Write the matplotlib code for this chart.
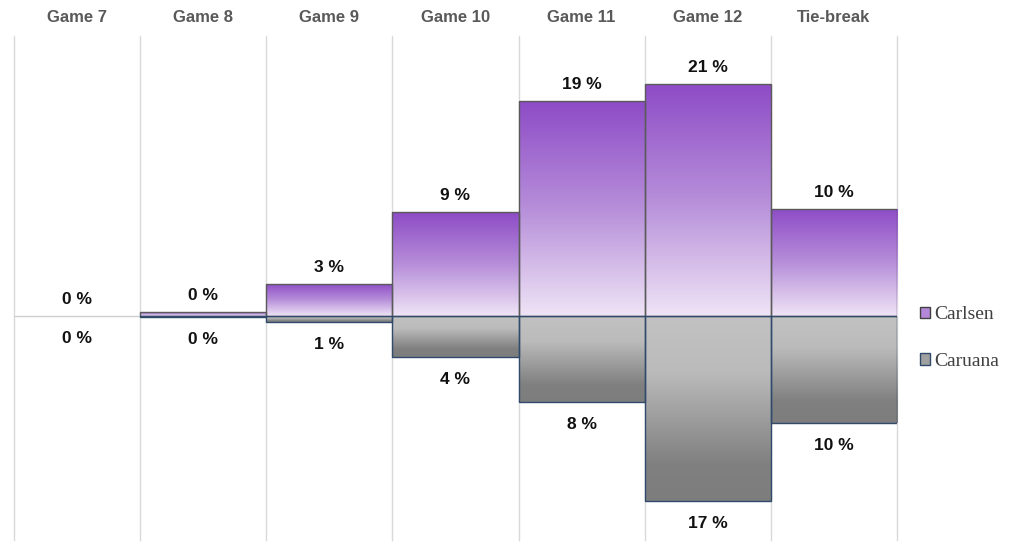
import numpy as np
import matplotlib
matplotlib.use("Agg")
import matplotlib.pyplot as plt
from matplotlib.colors import LinearSegmentedColormap
from matplotlib.patches import Patch

# ---- data ----
games = ["Game 7", "Game 8", "Game 9", "Game 10", "Game 11", "Game 12", "Tie-break"]
carlsen = [0.0, 0.4, 2.9, 9.4, 19.5, 21.0, 9.7]
caruana = [0.0, 0.1, 0.5, 3.7, 7.8, 16.7, 9.7]
carlsen_labels = ["0 %", "0 %", "3 %", "9 %", "19 %", "21 %", "10 %"]
caruana_labels = ["0 %", "0 %", "1 %", "4 %", "8 %", "17 %", "10 %"]
series_names = ["Carlsen", "Caruana"]

W, H = 1013, 555
fig = plt.figure(figsize=(W / 100, H / 100), dpi=100)
ax = fig.add_axes([14 / W, (H - 540) / H, 883 / W, 504 / H])

px_per_unit = 11.05
ymax = (316 - 36) / px_per_unit
ymin = -(540 - 316) / px_per_unit

purple_cmap = LinearSegmentedColormap.from_list(
    "purp", [(0.0, "#efe4f6"), (0.5, "#b68ed9"), (1.0, "#8d4bc6")])
gray_cmap = LinearSegmentedColormap.from_list(
    "gry", [(0.0, "#c2c2c2"), (0.3, "#bbbbbb"), (0.8, "#808080"), (1.0, "#7d7d7d")])

x = np.arange(len(games)) + 0.5
lw1 = [1.0 if v > 0 else 0.0 for v in carlsen]
lw2 = [1.0 if v > 0 else 0.0 for v in caruana]
b1 = ax.bar(x, carlsen, width=1.0, facecolor="none", edgecolor="#5a5a5a", linewidth=lw1, zorder=3)
b2 = ax.bar(x, [-v for v in caruana], width=1.0, facecolor="none", edgecolor="#2f4a6b", linewidth=lw2, zorder=3)

grad = np.linspace(0, 1, 256).reshape(-1, 1)
for bar, v in zip(b1, carlsen):
    if v <= 0:
        continue
    l = bar.get_x(); r = l + bar.get_width()
    im = ax.imshow(grad, extent=[l, r, 0, v], origin="lower", aspect="auto",
                   cmap=purple_cmap, vmin=0, vmax=1, zorder=2, interpolation="bilinear")
    im.set_clip_path(bar)
for bar, v in zip(b2, caruana):
    if v <= 0:
        continue
    l = bar.get_x(); r = l + bar.get_width()
    im = ax.imshow(grad[::-1], extent=[l, r, -v, 0], origin="lower", aspect="auto",
                   cmap=gray_cmap, vmin=0, vmax=1, zorder=2, interpolation="bilinear")
    im.set_clip_path(bar)

# grid / zero line
for gx in range(len(games) + 1):
    ax.axvline(gx, color="#d9d9d9", linewidth=1.0, zorder=1, clip_on=False)
ax.axhline(0, color="#d0d0d0", linewidth=1.0, zorder=1)

# value labels
lab_font = dict(family=["Liberation Sans", "DejaVu Sans"], fontsize=12.5, fontweight="bold", color="#111111")
for xi, v, t in zip(x, carlsen, carlsen_labels):
    ax.annotate(t, (xi, v), xytext=(0, 11.8), textcoords="offset points",
                ha="center", va="center", **lab_font)
for xi, v, t in zip(x, caruana, caruana_labels):
    ax.annotate(t, (xi, -v), xytext=(0, -16.3), textcoords="offset points",
                ha="center", va="center", **lab_font)

# category labels on top
for xi, g in zip(x, games):
    ax.text(xi, 1 + (36 - 17) / 504, g, transform=ax.get_xaxis_transform(),
            ha="center", va="center", fontsize=12, fontweight="bold",
            color="#595959", family=["Liberation Sans", "DejaVu Sans"])

ax.set_xlim(0, len(games))
ax.set_ylim(ymin, ymax)
ax.axis("off")

handles = [Patch(facecolor="#b488d8", edgecolor="#404040", linewidth=1.0),
           Patch(facecolor="#a0a0a0", edgecolor="#2f4a6b", linewidth=1.0)]
leg = fig.legend(handles, series_names, loc="center left",
                 bbox_to_anchor=(902 / W, 1 - 338 / H), frameon=False,
                 handlelength=0.55, handleheight=0.55, handletextpad=0.2,
                 labelspacing=1.5, prop=dict(family="Liberation Serif", size=14))
for t in leg.get_texts():
    t.set_color("#404040")

fig.savefig("out.png", dpi=100)
